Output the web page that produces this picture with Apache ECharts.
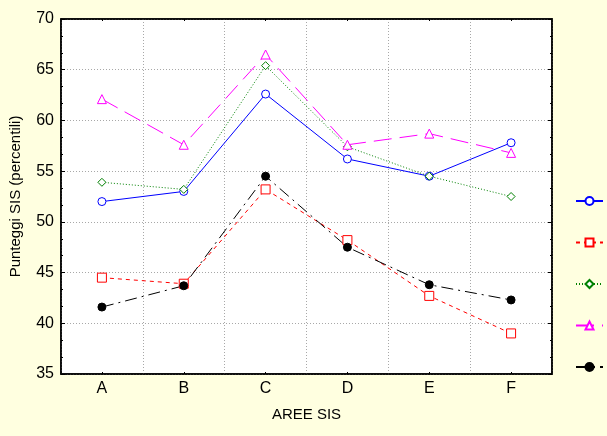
<!DOCTYPE html>
<html><head><meta charset="utf-8">
<script src="https://cdn.jsdelivr.net/npm/echarts@6/dist/echarts.min.js"></script>
<style>html,body{margin:0;padding:0;background:#FFFFE0;}#c{width:607px;height:436px;}</style>
</head><body><div id="c"></div>
<script>
const categories = ['A','B','C','D','E','F'];
const seriesNames = ['S1','S2','S3','S4','S5'];
const blueVals = [52.0, 53.0, 62.6, 56.2, 54.5, 57.8];
const redVals = [44.5, 43.9, 53.2, 48.2, 42.7, 39.0];
const greenVals = [53.9, 53.2, 65.4, 57.4, 54.5, 52.5];
const magentaVals = [62.1, 57.6, 66.5, 57.6, 58.7, 56.8];
const blackVals = [41.6, 43.7, 54.5, 47.5, 43.8, 42.3];
const yTicks = [35, 70, 5];

const chart = echarts.init(document.getElementById('c'), null, {renderer:'canvas'});
const font = 'Liberation Sans, Arial, sans-serif';
function mk(name, data, color, lineType, symbol, size, filled) {
  return {
    name, type:'line', data, symbol, symbolSize:size,
    lineStyle:{color, width:1, type:lineType},
    itemStyle:{color: filled ? color : '#fff', borderColor:color, borderWidth:1},
    emphasis:{disabled:true}, animation:false
  };
}
chart.setOption({
  backgroundColor:'#FFFFE0',
  animation:false,
  grid:{left:60, right:55, top:19, bottom:62, show:true, backgroundColor:'#fff', borderColor:'#000', borderWidth:1.5},
  legend:{
    orient:'vertical', left:575, top:196, itemWidth:27, itemHeight:10, itemGap:31.5, padding:0,
    formatter:()=>'', textStyle:{fontSize:1},
    data:seriesNames
  },
  xAxis:[{
    type:'category', data:categories, boundaryGap:true,
    axisLine:{lineStyle:{color:'#000', width:1.5}},
    axisTick:{show:true, inside:true, length:2, alignWithLabel:true, lineStyle:{color:'#000'}},
    axisLabel:{color:'#000', fontFamily:font, fontSize:16, margin:7},
    splitLine:{show:true, lineStyle:{color:'#a8a8a8', type:[1,2]}},
    name:'AREE SIS', nameLocation:'middle', nameGap:33,
    nameTextStyle:{color:'#000', fontFamily:font, fontSize:15}
  },{
    type:'category', data:categories, position:'top', boundaryGap:true,
    axisLine:{lineStyle:{color:'#000', width:1.5}},
    axisTick:{show:true, inside:true, length:2, alignWithLabel:true, lineStyle:{color:'#000'}},
    axisLabel:{show:false}, splitLine:{show:false}
  }],
  yAxis:[{
    type:'value', min:yTicks[0], max:yTicks[1], interval:yTicks[2],
    axisLine:{show:true, lineStyle:{color:'#000', width:1.5}},
    axisTick:{show:true, inside:true, length:4, lineStyle:{color:'#000'}},
    minorTick:{show:true, splitNumber:3, length:2, lineStyle:{color:'#000'}},
    axisLabel:{color:'#000', fontFamily:font, fontSize:16, margin:7},
    splitLine:{show:true, lineStyle:{color:'#a8a8a8', type:[1,2]}},
    name:'Punteggi SIS (percentili)', nameLocation:'middle', nameGap:38,
    nameTextStyle:{color:'#000', fontFamily:font, fontSize:15}
  },{
    type:'value', min:yTicks[0], max:yTicks[1], interval:yTicks[2], position:'right',
    axisLine:{show:true, lineStyle:{color:'#000', width:1.5}},
    axisTick:{show:true, inside:true, length:4, lineStyle:{color:'#000'}},
    minorTick:{show:true, splitNumber:3, length:2, lineStyle:{color:'#000'}},
    axisLabel:{show:false}, splitLine:{show:false}
  }],
  series:[
    mk(seriesNames[0], blueVals, '#0000FF', 'solid', 'circle', 8, false),
    mk(seriesNames[1], redVals, '#FF0000', [4,4], 'rect', 9, false),
    mk(seriesNames[2], greenVals, '#008000', [1,2], 'diamond', 8, false),
    mk(seriesNames[3], magentaVals, '#FF00FF', [18,8], 'triangle', 9, false),
    mk(seriesNames[4], blackVals, '#000000', [12,5,2,5], 'circle', 8, true)
  ]
});
</script></body></html>
